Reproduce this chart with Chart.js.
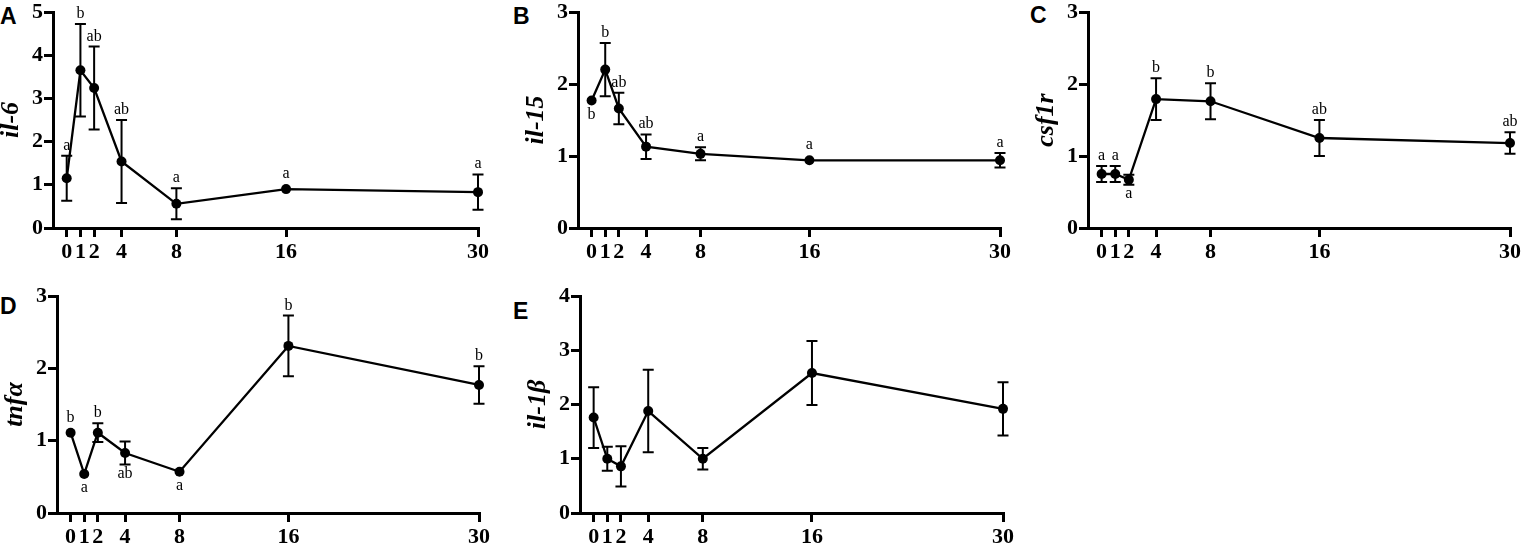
<!DOCTYPE html>
<html>
<head>
<meta charset="utf-8">
<script src="https://cdn.jsdelivr.net/npm/chart.js@4.4.0/dist/chart.umd.min.js"></script>
<style>
  html, body { margin:0; padding:0; background:#fff; }
  body { width:1525px; height:545px; position:relative; overflow:hidden; }
  .panel { position:absolute; }
  .plabel { position:absolute; font-family:"Liberation Sans", Arial, sans-serif; font-weight:bold; font-size:23px; line-height:1; color:#000; }
</style>
</head>
<body>
<div class="plabel" style="left:0px;top:5px;">A</div>
<div class="plabel" style="left:513px;top:5px;">B</div>
<div class="plabel" style="left:1030px;top:4px;">C</div>
<div class="plabel" style="left:0px;top:295px;">D</div>
<div class="plabel" style="left:513px;top:300px;">E</div>

<div class="panel" style="left:-2px;top:0px;"><canvas id="cA" width="500" height="270"></canvas></div>
<div class="panel" style="left:523px;top:0px;"><canvas id="cB" width="500" height="270"></canvas></div>
<div class="panel" style="left:1033px;top:0px;"><canvas id="cC" width="492" height="270"></canvas></div>
<div class="panel" style="left:2px;top:270px;"><canvas id="cD" width="500" height="275"></canvas></div>
<div class="panel" style="left:525px;top:270px;"><canvas id="cE" width="500" height="275"></canvas></div>

<script>
// ---------- DATA ----------
const DAYS = [0, 1, 2, 4, 8, 16, 30];
const X_TICKS = [0, 1, 2, 4, 8, 16, 30];

const IL6_MEAN = [1.15, 3.65, 3.24, 1.54, 0.56, 0.90, 0.83];
const IL6_SD   = [0.52, 1.07, 0.96, 0.96, 0.36, 0.00, 0.41];
const IL6_LETTERS = ['a', 'b', 'ab', 'ab', 'a', 'a', 'a'];
const IL6_LETTER_POS = ['up', 'up', 'up', 'up', 'up', 'up', 'up'];

const IL15_MEAN = [1.77, 2.20, 1.66, 1.13, 1.03, 0.94, 0.94];
const IL15_SD   = [0.00, 0.37, 0.22, 0.17, 0.09, 0.00, 0.10];
const IL15_LETTERS = ['b', 'b', 'ab', 'ab', 'a', 'a', 'a'];
const IL15_LETTER_POS = ['down', 'up', 'up', 'up', 'up', 'up', 'up'];

const CSF1R_MEAN = [0.75, 0.75, 0.67, 1.79, 1.76, 1.25, 1.18];
const CSF1R_SD   = [0.11, 0.11, 0.07, 0.29, 0.25, 0.25, 0.15];
const CSF1R_LETTERS = ['a', 'a', 'a', 'b', 'b', 'ab', 'ab'];
const CSF1R_LETTER_POS = ['up', 'up', 'down', 'up', 'up', 'up', 'up'];

const TNFA_MEAN = [1.11, 0.54, 1.11, 0.83, 0.57, 2.31, 1.77];
const TNFA_SD   = [0.00, 0.00, 0.13, 0.16, 0.00, 0.42, 0.26];
const TNFA_LETTERS = ['b', 'a', 'b', 'ab', 'a', 'b', 'b'];
const TNFA_LETTER_POS = ['up', 'down', 'up', 'down', 'down', 'up', 'up'];

const IL1B_MEAN = [1.76, 1.00, 0.86, 1.88, 1.00, 2.58, 1.92];
const IL1B_SD   = [0.56, 0.22, 0.37, 0.76, 0.20, 0.59, 0.49];

// ---------- DRAWING ----------
const POINT_R = 5;
const CAP_HALF = 5.5;

const annotPlugin = {
  id: 'annot',
  afterDatasetsDraw(chart) {
    const { ctx, scales: { x, y } } = chart;
    const ds = chart.data.datasets[0];
    ctx.save();
    ctx.strokeStyle = '#000';
    ctx.fillStyle = '#000';
    ctx.lineWidth = 2;
    ds.data.forEach((p, i) => {
      const e = ds.sd ? ds.sd[i] : 0;
      const px = x.getPixelForValue(p.x);
      const py = y.getPixelForValue(p.y);
      const top = y.getPixelForValue(p.y + e);
      const bot = y.getPixelForValue(p.y - e);
      if (py - top > POINT_R) {
        ctx.beginPath();
        ctx.moveTo(px, top); ctx.lineTo(px, bot);
        ctx.moveTo(px - CAP_HALF, top); ctx.lineTo(px + CAP_HALF, top);
        ctx.moveTo(px - CAP_HALF, bot); ctx.lineTo(px + CAP_HALF, bot);
        ctx.stroke();
      }
      if (ds.letters && ds.letters[i]) {
        ctx.font = '16px "Liberation Serif", "Times New Roman", serif';
        ctx.textAlign = 'center';
        if (ds.letterPos[i] === 'down') {
          ctx.textBaseline = 'top';
          const yy = Math.max(bot, py + POINT_R);
          ctx.fillText(ds.letters[i], px, yy + 1);
        } else {
          ctx.textBaseline = 'alphabetic';
          const yy = Math.min(top, py - POINT_R);
          ctx.fillText(ds.letters[i], px, yy - 6);
        }
      }
    });
    ctx.restore();
  }
};

const TICK_FONT = { family: '"Liberation Serif", "Times New Roman", serif', size: 22, weight: 'bold', lineHeight: 1 };

function makePanel(id, mean, sd, letters, letterPos, yMax, title, padTop, padRight, xAxisH) {
  const data = DAYS.map((d, i) => ({ x: d, y: mean[i] }));
  new Chart(document.getElementById(id), {
    type: 'line',
    data: {
      datasets: [{
        data: data,
        sd: sd,
        letters: letters,
        letterPos: letterPos,
        borderColor: '#000',
        borderWidth: 2.3,
        backgroundColor: '#000',
        pointBackgroundColor: '#000',
        pointBorderColor: '#000',
        pointRadius: POINT_R,
        pointHoverRadius: POINT_R,
        pointBorderWidth: 0,
        tension: 0,
        fill: false,
        clip: false
      }]
    },
    options: {
      responsive: false,
      animation: false,
      events: [],
      layout: { padding: { top: padTop, right: padRight, left: 0, bottom: 0 } },
      plugins: { legend: { display: false }, tooltip: { enabled: false } },
      scales: {
        x: {
          type: 'linear',
          min: -1,
          max: 30,
          afterBuildTicks(scale) { scale.ticks = X_TICKS.map(v => ({ value: v })); },
          afterFit(scale) { scale.height = xAxisH; },
          grid: { display: true, drawOnChartArea: false, drawTicks: true, tickLength: 9, lineWidth: 3, color: '#000' },
          border: { display: true, color: '#000', width: 3 },
          ticks: { autoSkip: false, maxRotation: 0, minRotation: 0, padding: 4, color: '#000', font: TICK_FONT }
        },
        y: {
          type: 'linear',
          min: 0,
          max: yMax,
          afterFit(scale) { scale.width = 55; },
          grid: { display: true, drawOnChartArea: false, drawTicks: true, tickLength: 9, lineWidth: 3, color: '#000' },
          border: { display: true, color: '#000', width: 3 },
          ticks: { stepSize: 1, padding: 1, color: '#000', font: TICK_FONT },
          title: {
            display: true,
            text: title,
            color: '#000',
            padding: { top: 0, bottom: 0 },
            font: { family: '"Liberation Serif", "Times New Roman", serif', size: 26, weight: 'bold', style: 'italic', lineHeight: 1 }
          }
        }
      }
    },
    plugins: [annotPlugin]
  });
}

makePanel('cA', IL6_MEAN, IL6_SD, IL6_LETTERS, IL6_LETTER_POS, 5, 'il-6', 10, 20, 42);
makePanel('cB', IL15_MEAN, IL15_SD, IL15_LETTERS, IL15_LETTER_POS, 3, 'il-15', 10, 23, 42);
makePanel('cC', CSF1R_MEAN, CSF1R_SD, CSF1R_LETTERS, CSF1R_LETTER_POS, 3, 'csf1r', 10, 13, 42);
makePanel('cD', TNFA_MEAN, TNFA_SD, TNFA_LETTERS, TNFA_LETTER_POS, 3, 'tnfα', 26, 23, 32);
makePanel('cE', IL1B_MEAN, IL1B_SD, null, null, 4, 'il-1β', 26, 22, 32);
</script>
</body>
</html>
